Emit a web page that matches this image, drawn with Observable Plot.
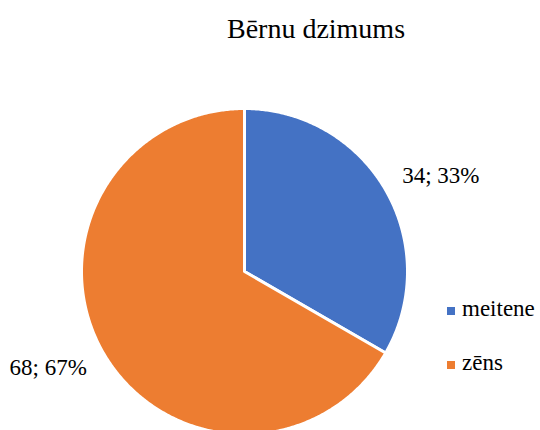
<!DOCTYPE html>
<html><head><meta charset="utf-8">
<script src="https://cdn.jsdelivr.net/npm/d3@7"></script>
<script src="https://cdn.jsdelivr.net/npm/@observablehq/plot@0.6"></script>
<style>
html,body{margin:0;padding:0;background:#fff;overflow:hidden}
#wrap{position:relative;width:540px;height:430px;overflow:hidden}
#title{height:60px;width:448px;padding-left:92px;text-align:center;font-family:"Liberation Serif","Times New Roman",Times,"DejaVu Serif","Noto Serif",serif;font-size:28px;line-height:57px;color:#000}
.leg{position:absolute;left:447px;height:30px;display:flex;align-items:center;font-family:"Liberation Serif","Times New Roman",Times,"DejaVu Serif","Noto Serif",serif;font-size:23px;line-height:30px;color:#000}
.sw{width:8px;height:8px;margin-right:7px;position:relative;top:2px}
</style>
</head><body>
<div id="wrap"><div id="title"></div><div id="chart"></div></div>
<script>
const title = "Bērnu dzimums";
const categories = ["meitene", "zēns"];
const values = [34, 68];
const colors = ["#4472C4", "#ED7D31"];

const total = d3.sum(values);
const slices = [];
const labels = [];
let acc = 0;
categories.forEach((name, i) => {
  const a0 = acc / total * 2 * Math.PI;
  acc += values[i];
  const a1 = acc / total * 2 * Math.PI;
  const n = Math.max(2, Math.ceil((a1 - a0) / (Math.PI / 360)));
  slices.push({name, x: 0, y: 0});
  for (let k = 0; k <= n; k++) {
    const a = a0 + (a1 - a0) * k / n;
    slices.push({name, x: Math.sin(a), y: Math.cos(a)});
  }
  const mid = (a0 + a1) / 2 + 4 * Math.PI / 180;
  const pct = Math.round(values[i] / total * 100);
  labels.push({name, x: 1.34 * Math.sin(mid), y: 1.34 * Math.cos(mid), text: `${values[i]}; ${pct}%`});
});

document.getElementById("title").textContent = title;

const serif = '"Liberation Serif", "Times New Roman", Times, "DejaVu Serif", "Noto Serif", serif';
const R = 163, cx = 244, cy = 211;
const chart = Plot.plot({
  width: 540,
  height: 370,
  margin: 0,
  x: {domain: [-1, 1], range: [cx - R, cx + R], axis: null},
  y: {domain: [-1, 1], range: [cy + R, cy - R], axis: null},
  color: {domain: categories, range: colors},
  style: {background: "white", overflow: "hidden"},
  marks: [
    Plot.line(slices, {x: "x", y: "y", z: "name", fill: "name", stroke: "white", strokeWidth: 3, strokeLinejoin: "round", curve: "linear-closed"}),
    Plot.text(labels, {x: "x", y: "y", text: "text", fontSize: 23, fontFamily: serif, fill: "black", textAnchor: "middle", lineAnchor: "middle"})
  ]
});
document.getElementById("chart").appendChild(chart);

const wrap = document.getElementById("wrap");
categories.forEach((name, i) => {
  const row = document.createElement("div");
  row.className = "leg";
  row.style.top = (294 + i * 54) + "px";
  const sw = document.createElement("div");
  sw.className = "sw";
  sw.style.background = colors[i];
  const t = document.createElement("span");
  t.textContent = name;
  row.appendChild(sw);
  row.appendChild(t);
  wrap.appendChild(row);
});
</script>
</body></html>
